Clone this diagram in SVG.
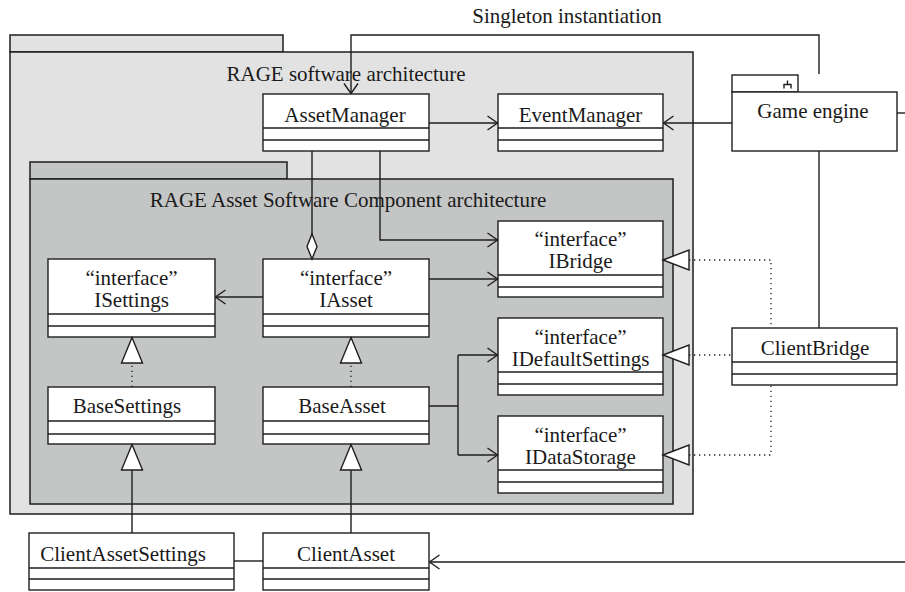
<svg xmlns="http://www.w3.org/2000/svg" width="905" height="592" viewBox="0 0 905 592">
<defs>
<style>
.box{fill:#fff;stroke:#1e1e1e;stroke-width:1.4}
.div{stroke:#1e1e1e;stroke-width:1.4;fill:none}
.pk1{fill:#e2e2e2;stroke:#1e1e1e;stroke-width:1.5}
.pk2{fill:#c4c5c5;stroke:#1e1e1e;stroke-width:1.5}
.ln{fill:none;stroke:#1e1e1e;stroke-width:1.4}
.dot{fill:none;stroke:#1e1e1e;stroke-width:1.3;stroke-dasharray:1.3 3.7}
.tri{fill:#fff;stroke:#1e1e1e;stroke-width:1.4}
text{font-family:"Liberation Serif","Times New Roman",serif;font-size:21px;fill:#1a1a1a;text-anchor:middle}
</style>
<marker id="open" viewBox="0 0 12 16" refX="11" refY="8" markerWidth="12" markerHeight="16" markerUnits="userSpaceOnUse" orient="auto">
<path d="M1,1 L11,8 L1,15" fill="none" stroke="#1e1e1e" stroke-width="1.4"/>
</marker>
</defs>
<rect width="905" height="592" fill="#fff"/>

<g id="pkg-rage">
<rect class="pk1" x="10" y="35" width="273" height="17"/>
<rect class="pk1" x="10" y="52" width="683" height="462"/>
<text x="346" y="81">RAGE software architecture</text>
</g>
<g id="pkg-asset">
<rect class="pk2" x="30" y="162" width="257" height="17"/>
<rect class="pk2" x="30" y="179" width="643" height="325"/>
<text x="348" y="207">RAGE Asset Software Component architecture</text>
</g>

<g id="AssetManager">
<rect class="box" x="263" y="94" width="166" height="57"/>
<path class="div" d="M263,128H429M263,140H429"/>
<text x="345" y="122">AssetManager</text>
</g>
<g id="EventManager">
<rect class="box" x="498" y="94" width="165" height="57"/>
<path class="div" d="M498,128H663M498,140H663"/>
<text x="580.5" y="122">EventManager</text>
</g>
<g id="GameEngine">
<rect class="box" x="732" y="75" width="66" height="17"/>
<rect class="box" x="732" y="92" width="165" height="59"/>
<path class="div" d="M787.5,80.5V84.5M784,88.5V84.5H791V88.5" stroke-width="1.3"/>
<text x="813" y="118">Game engine</text>
</g>
<g id="ISettings">
<rect class="box" x="48" y="259" width="167" height="78"/>
<path class="div" d="M48,314H215M48,326H215"/>
<text x="131.5" y="285">“interface”</text>
<text x="131.5" y="307">ISettings</text>
</g>
<g id="IAsset">
<rect class="box" x="263" y="259" width="166" height="78"/>
<path class="div" d="M263,314H429M263,326H429"/>
<text x="346" y="285">“interface”</text>
<text x="346" y="307">IAsset</text>
</g>
<g id="IBridge">
<rect class="box" x="498" y="221" width="165" height="76"/>
<path class="div" d="M498,275H663M498,287H663"/>
<text x="580.5" y="246">“interface”</text>
<text x="580.5" y="268">IBridge</text>
</g>
<g id="IDefaultSettings">
<rect class="box" x="498" y="318" width="165" height="77"/>
<path class="div" d="M498,372H663M498,384H663"/>
<text x="580.5" y="344">“interface”</text>
<text x="580.5" y="366">IDefaultSettings</text>
</g>
<g id="IDataStorage">
<rect class="box" x="498" y="416" width="165" height="77"/>
<path class="div" d="M498,470H663M498,482H663"/>
<text x="580.5" y="442">“interface”</text>
<text x="580.5" y="464">IDataStorage</text>
</g>
<g id="ClientBridge">
<rect class="box" x="732" y="328" width="165" height="57"/>
<path class="div" d="M732,362H897M732,374H897"/>
<text x="815" y="355">ClientBridge</text>
</g>
<g id="BaseSettings">
<rect class="box" x="48" y="387" width="167" height="57"/>
<path class="div" d="M48,421H215M48,434H215"/>
<text x="127" y="413">BaseSettings</text>
</g>
<g id="BaseAsset">
<rect class="box" x="263" y="387" width="166" height="57"/>
<path class="div" d="M263,421H429M263,434H429"/>
<text x="342" y="413">BaseAsset</text>
</g>
<g id="ClientAssetSettings">
<rect class="box" x="29" y="533" width="205" height="57"/>
<path class="div" d="M29,568H234M29,579H234"/>
<text x="123" y="561">ClientAssetSettings</text>
</g>
<g id="ClientAsset">
<rect class="box" x="263" y="533" width="166" height="57"/>
<path class="div" d="M263,568H429M263,579H429"/>
<text x="346" y="561">ClientAsset</text>
</g>

<g id="connectors">
<path class="ln" d="M819,74V35H351V93.5" marker-end="url(#open)"/>
<text x="567" y="23">Singleton instantiation</text>
<path class="ln" d="M429,123H497.5" marker-end="url(#open)"/>
<path class="ln" d="M732,123H663.5" marker-end="url(#open)"/>
<path class="ln" d="M897,113H905"/>
<path class="ln" d="M819,151V328"/>
<path class="ln" d="M312,151V234"/>
<path class="tri" d="M312,234L317,246.5L312,259L307,246.5Z"/>
<path class="ln" d="M380,151V240H497.5" marker-end="url(#open)"/>
<path class="ln" d="M429,279H497.5" marker-end="url(#open)"/>
<path class="ln" d="M263,297H215.5" marker-end="url(#open)"/>
<path class="ln" d="M429,406H458M458,355V455"/>
<path class="ln" d="M458,355H497.5" marker-end="url(#open)"/>
<path class="ln" d="M458,455H497.5" marker-end="url(#open)"/>
<path class="ln" d="M905,562H429.5" marker-end="url(#open)"/>
<path class="ln" d="M234,561H263"/>
<path class="dot" d="M689,260H771V328"/>
<path class="dot" d="M689,355H732"/>
<path class="dot" d="M689,455H771V385"/>
<path class="tri" d="M663,260L689,250L689,270Z"/>
<path class="tri" d="M663,355L689,345L689,365Z"/>
<path class="tri" d="M663,455L689,445L689,465Z"/>
<path class="dot" d="M132,387V363"/>
<path class="dot" d="M351,387V363"/>
<path class="tri" d="M132,337.5L142.5,363H121.5Z"/>
<path class="tri" d="M351,337.5L361.5,363H340.5Z"/>
<path class="ln" d="M132,533V470"/>
<path class="ln" d="M351,533V470"/>
<path class="tri" d="M132,444.5L142.5,470H121.5Z"/>
<path class="tri" d="M351,444.5L361.5,470H340.5Z"/>
</g>
</svg>
